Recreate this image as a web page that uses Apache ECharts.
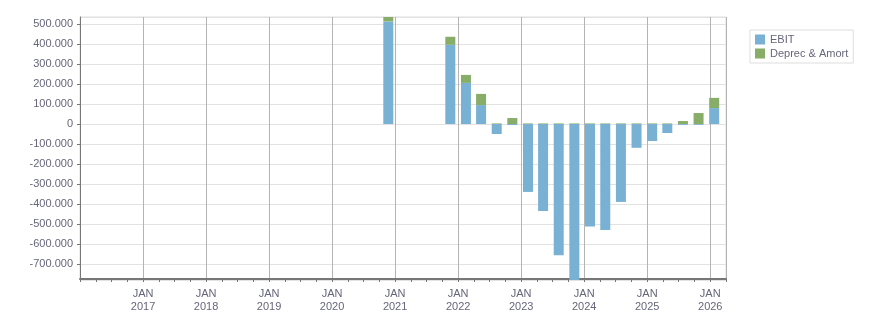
<!DOCTYPE html>
<html>
<head>
<meta charset="utf-8">
<script src="https://cdn.jsdelivr.net/npm/echarts@6/dist/echarts.min.js"></script>
<style>
  html, body { margin: 0; padding: 0; background: #fff; }
  #chart { width: 876px; height: 313px; }
</style>
</head>
<body>
<div id="chart"></div>
<script>
// quarter dates of each bar
var periods = ['2020-11-20', '2021-11-20', '2022-02-20', '2022-05-20', '2022-08-20', '2022-11-20',
  '2023-02-20', '2023-05-20', '2023-08-20', '2023-11-20', '2024-02-20', '2024-05-20', '2024-08-20',
  '2024-11-20', '2025-02-20', '2025-05-20', '2025-08-20', '2025-11-20', '2026-02-20'];
var ebit = [514000, 397000, 206000, 95000, -50000, -5000,
  -340000, -436000, -657000, -781000, -513000, -531000, -390000,
  -119000, -85000, -45000, -4000, -4000, 80000];
var deprec = [22000, 40000, 40000, 56000, 3000, 30000,
  3000, 3000, 3000, 3000, 3000, 3000, 3000,
  3000, 3000, 3000, 15000, 55000, 51000];

var seriesNames = ['EBIT', 'Deprec & Amort'];
// x range: Jan 2016 .. Apr 2026, labelled every January
var startYear = 2016;
var yearSpan = 10.25;
var labelColor = '#66667a';

function fmtNum(v) {
  if (v === 0) return '0';
  var s = String(Math.abs(Math.round(v))).replace(/\B(?=(\d{3})+(?!\d))/g, '.');
  return (v < 0 ? '-' : '') + s;
}

function pairs(vals) {
  var out = [];
  for (var i = 0; i < periods.length; i++) {
    out.push([periods[i], vals[i]]);
  }
  return out;
}

var gridPos = { left: 80, right: 150, top: 17, bottom: 33 };

var myChart = echarts.init(document.getElementById('chart'));
var option = {
  animation: false,
  textStyle: { fontFamily: 'Liberation Sans' },
  grid: [
    Object.assign({ show: true, borderColor: '#dddddd', borderWidth: 1 }, gridPos),
    Object.assign({ show: false }, gridPos)
  ],
  legend: {
    orient: 'vertical',
    left: 750, top: 30,
    data: seriesNames,
    icon: 'rect',
    itemWidth: 10, itemHeight: 10, itemGap: 3,
    padding: [4, 5, 4, 5],
    borderColor: '#dddddd', borderWidth: 1,
    textStyle: { fontSize: 11, color: labelColor }
  },
  xAxis: [
    {
      // bars sit on real dates
      type: 'time',
      gridIndex: 0,
      min: startYear + '-01-01',
      max: '2026-04-01',
      axisLine: { show: false },
      axisTick: { show: false },
      splitLine: { show: false },
      axisLabel: { show: false }
    },
    {
      // year grid lines, labels and quarter ticks
      type: 'value',
      gridIndex: 1,
      min: 0,
      max: yearSpan,
      interval: 1,
      axisLine: { onZero: false, lineStyle: { color: '#777777', width: 2 } },
      axisTick: { show: true, length: 3, lineStyle: { color: '#777777' } },
      minorTick: { show: true, splitNumber: 4, length: 3, lineStyle: { color: '#777777' } },
      splitLine: { show: true, lineStyle: { color: '#b4b4b4', width: 1 } },
      axisLabel: {
        showMinLabel: false,
        showMaxLabel: false,
        color: labelColor,
        fontSize: 11,
        lineHeight: 13,
        margin: 8,
        formatter: function (v) {
          if (v % 1 !== 0) return '';
          return 'JAN\n' + (startYear + v);
        }
      }
    }
  ],
  yAxis: [
    {
      type: 'value',
      gridIndex: 0,
      min: -781000,
      max: 536000,
      splitNumber: 13,
      axisLine: { show: true, lineStyle: { color: '#777777', width: 1 } },
      axisTick: { show: true, length: 3, lineStyle: { color: '#777777' } },
      splitLine: { lineStyle: { color: '#e2e2e2', width: 1 } },
      axisLabel: {
        showMinLabel: false,
        showMaxLabel: false,
        color: labelColor,
        fontSize: 11,
        margin: 7,
        formatter: fmtNum
      }
    },
    {
      type: 'value',
      gridIndex: 1,
      min: 0,
      max: 1,
      show: false
    }
  ],
  series: [
    {
      name: seriesNames[0],
      type: 'bar',
      stack: 'total',
      barWidth: 10,
      itemStyle: { color: '#78b1d3' },
      data: pairs(ebit)
    },
    {
      name: seriesNames[1],
      type: 'bar',
      stack: 'total',
      barWidth: 10,
      itemStyle: { color: '#87ad68' },
      data: pairs(deprec)
    }
  ]
};
myChart.setOption(option);
</script>
</body>
</html>
